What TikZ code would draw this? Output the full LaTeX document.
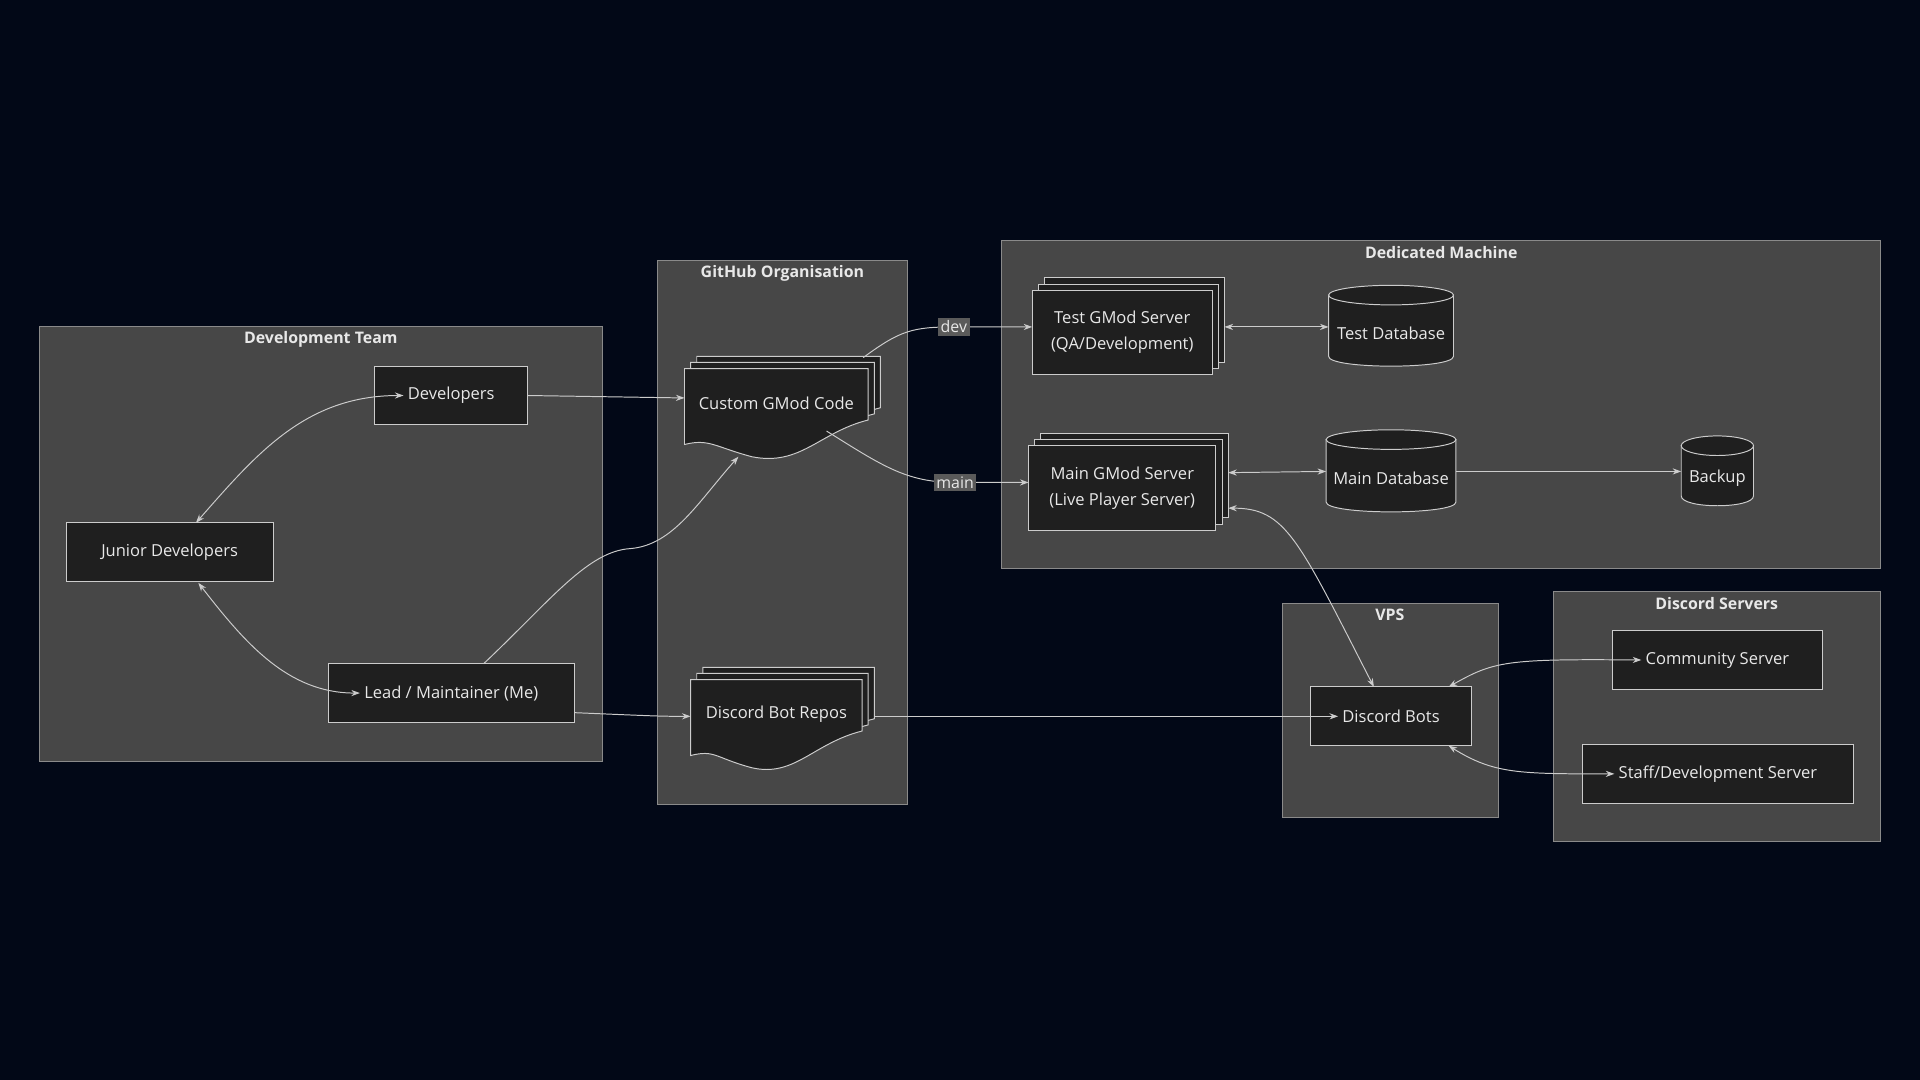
\documentclass[tikz,border=0pt]{standalone}
\usepackage{fontspec}
\setmainfont{Open Sans}
\usetikzlibrary{arrows.meta}
\definecolor{bg}{HTML}{020817}
\definecolor{clu}{HTML}{474747}
\definecolor{clb}{HTML}{8A8A8A}
\definecolor{nf}{HTML}{1F1F1F}
\definecolor{nb}{HTML}{CCCCCC}
\definecolor{tx}{HTML}{E8E8E8}
\definecolor{lb}{HTML}{5A5A5A}
\tikzset{
 cluster/.style={draw=clb,fill=clu,line width=0.8pt},
 ctitle/.style={text=tx,font=\fontsize{13}{15}\selectfont\bfseries},
 box/.style={draw=nb,fill=nf,line width=0.8pt},
 txt/.style={text=tx,font=\fontsize{13.5}{21}\selectfont,align=center},
 edge/.style={draw=nb,line width=0.8pt,-{Stealth[length=7pt,width=5pt]}},
 bedge/.style={draw=nb,line width=0.8pt,{Stealth[length=7pt,width=5pt]}-{Stealth[length=7pt,width=5pt]}},
 elab/.style={fill=lb,text=tx,font=\fontsize{13}{15}\selectfont,inner sep=2pt}
}
\newcommand{\rbox}[6]{\path[box] (#2,#3) rectangle (#4,#5); \node[txt] (#1) at ({(#2+#4)/2},{(#3+#5)/2}) {#6};}
\newcommand{\stackbox}[6]{\path[box] (#2+10,#3-10) rectangle (#4+10,#5-10); \path[box] (#2+5,#3-5) rectangle (#4+5,#5-5); \rbox{#1}{#2}{#3}{#4}{#5}{#6}}
\newcommand{\docpath}[4]{(#1,#2) -- (#3,#2) -- (#3,#4-30) .. controls (#3-40,#4-20) and (#3-55,#4+8) .. ({(#1+#3)/2-20},#4) .. controls ({(#1+#3)/2-50},#4-8) and (#1+20,#4-15) .. (#1,#4-10) -- cycle}
\newcommand{\docbox}[6]{\path[box] \docpath{#2+10}{#3-10}{#4+10}{#5-10}; \path[box] \docpath{#2+5}{#3-5}{#4+5}{#5-5}; \path[box] \docpath{#2}{#3}{#4}{#5}; \node[txt] (#1) at ({(#2+#4)/2},{#3+28}) {#6};}
\newcommand{\cyl}[6]{\path[box] (#2,#3+8) -- (#2,#5-8) .. controls (#2,#5+2.7) and (#4,#5+2.7) .. (#4,#5-8) -- (#4,#3+8) -- cycle;
 \path[box] ({(#2+#4)/2},#3+8) ellipse [x radius={(#4-#2)/2}, y radius=8];
 \node[txt] (#1) at ({(#2+#4)/2},{(#3+#5)/2+6}) {#6};}
\begin{document}
\begin{tikzpicture}[x=1pt,y=-1pt]
\path[fill=bg] (0,0) rectangle (1568,882);
% clusters
\path[cluster] (32,267) rectangle (492,622); \node[ctitle] (tdev) at (262,277) {Development Team};
\path[cluster] (537,213) rectangle (741,657); \node[ctitle] (tgit) at (639,223) {GitHub Organisation};
\path[cluster] (818,196) rectangle (1536,464); \node[ctitle] (tded) at (1177,206) {Dedicated Machine};
\path[cluster] (1047,493) rectangle (1224,668); \node[ctitle] (tvps) at (1135,502) {VPS};
\path[cluster] (1269,483) rectangle (1536,687); \node[ctitle] (tds) at (1402,493) {Discord Servers};
% nodes
\rbox{dev}{306}{299}{431}{347}{Developers}
\rbox{jun}{54}{427}{223}{475}{Junior Developers}
\rbox{lead}{268}{542}{469}{590}{Lead / Maintainer (Me)}
\docbox{code}{559}{301}{709}{373}{Custom GMod Code}
\docbox{bot}{564}{555}{704}{627}{Discord Bot Repos}
\stackbox{test}{843}{237}{990}{306}{Test GMod Server\\(QA/Development)}
\stackbox{main}{840}{364}{993}{433}{Main GMod Server\\(Live Player Server)}
\cyl{tdb}{1085}{233}{1187}{299}{Test Database}
\cyl{mdb}{1083}{351}{1189}{418}{Main Database}
\cyl{bak}{1373}{356}{1432}{413}{Backup}
\rbox{dbots}{1070}{561}{1202}{609}{Discord Bots}
\rbox{comm}{1317}{515}{1488}{563}{Community Server}
\rbox{staff}{1292}{608}{1514}{656}{Staff/Development Server}
% edges
\draw[bedge] (dev.west) .. controls (250,323) and (210,370) .. (160,427);
\draw[bedge] (162,476) .. controls (200,525) and (235,566) .. (lead.west);
\draw[edge] (431,323) -- (559,325);
\draw[edge] (395,542) .. controls (450,490) and (480,450) .. (515,448) .. controls (550,445) and (570,410) .. (603,373);
\draw[edge] (469,582) .. controls (540,585) .. (564,585);
\draw[edge] (705,292) .. controls (735,270) and (745,267) .. (779,267) -- (843,267);
\node[elab] (ldev) at (779,267) {dev};
\draw[edge] (675,352) .. controls (720,380) and (740,394) .. (780,394) -- (840,394);
\node[elab] (lmain) at (780,394) {main};
\draw[bedge] (1000,267) -- (1085,267);
\draw[bedge] (1003,386) -- (1083,385);
\draw[edge] (1189,385) -- (1373,385);
\draw[bedge] (1003,415) .. controls (1050,415) and (1060,440) .. (1122,561);
\draw[edge] (714,585) -- (dbots.west);
\draw[bedge] (1183,561) .. controls (1220,540) and (1230,538) .. (comm.west);
\draw[bedge] (1183,609) .. controls (1220,632) and (1240,632) .. (staff.west);
\end{tikzpicture}
\end{document}
